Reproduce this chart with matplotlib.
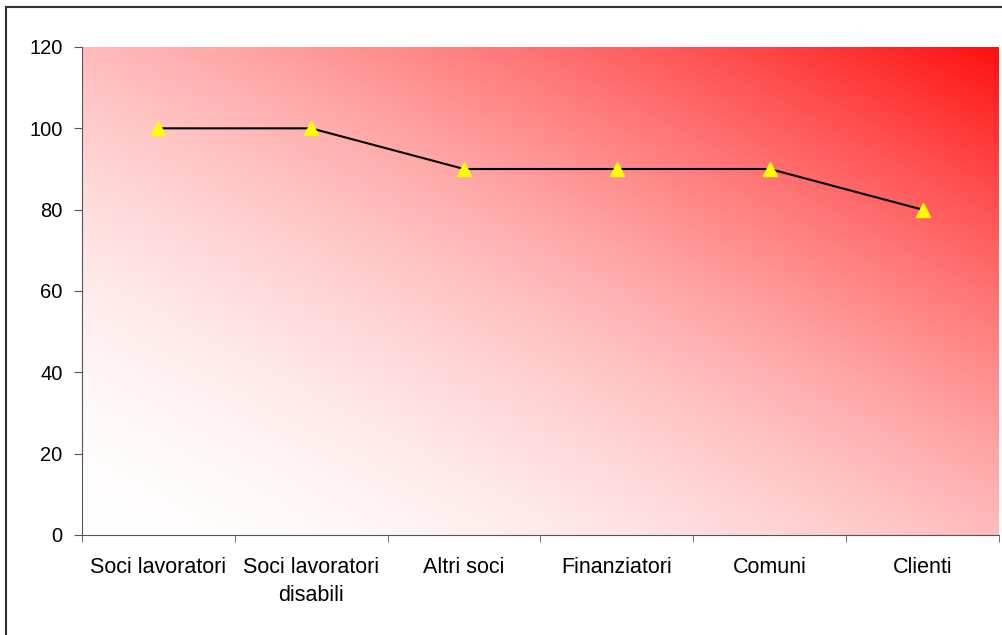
import matplotlib.pyplot as plt
import numpy as np
from matplotlib.lines import Line2D

categories = ["Soci lavoratori", "Soci lavoratori\ndisabili", "Altri soci",
              "Finanziatori", "Comuni", "Clienti"]
values = [100, 100, 90, 90, 90, 80]

plt.rcParams['font.family'] = ['Liberation Sans', 'DejaVu Sans']

W, H = 1002, 635
fig = plt.figure(figsize=(W / 100, H / 100), dpi=100)
ax = fig.add_axes([82 / W, 1 - 535 / H, (999 - 82) / W, (535 - 47) / H])

# diagonal gradient, white bottom-left to red top-right
n = 300
gx, gy = np.meshgrid(np.linspace(0, 1, n), np.linspace(0, 1, n))
t = (gx + gy) / 2
t = t ** 1.8
img = np.ones((n, n, 3))
img[..., 1] = 1 - t * 0.94
img[..., 2] = 1 - t * 0.94
ax.imshow(img, extent=[-0.5, 5.5, 0, 120], origin="lower", aspect="auto", zorder=0)

x = np.arange(len(categories))
ax.plot(x, values, color="black", lw=1.5, zorder=2)
ax.plot(x, values, ls="none", marker="^", ms=10, color="#ffff00", zorder=3)

ax.set_xlim(-0.5, 5.5)
ax.set_ylim(0, 120)
ax.set_yticks(range(0, 121, 20))
ax.set_xticks(x)
ax.set_xticklabels(categories, fontsize=15.5, linespacing=1.45)
ax.set_xticks(np.arange(-0.5, 5.6, 1), minor=True)
ax.tick_params(axis="x", which="major", length=0, pad=16)
ax.tick_params(axis="x", which="minor", length=5, color="#555555")
ax.tick_params(axis="y", length=6, color="#555555", labelsize=14.5, pad=8)
for s in ["top", "right"]:
    ax.spines[s].set_visible(False)
for s in ["left", "bottom"]:
    ax.spines[s].set_color("#555555")

fig.add_artist(Line2D([6 / W, 6 / W], [0, 1 - 7 / H], color="#333333", lw=1.5))
fig.add_artist(Line2D([6 / W, 1], [1 - 7 / H, 1 - 7 / H], color="#333333", lw=1.5))

fig.savefig("out.png", dpi=100)
